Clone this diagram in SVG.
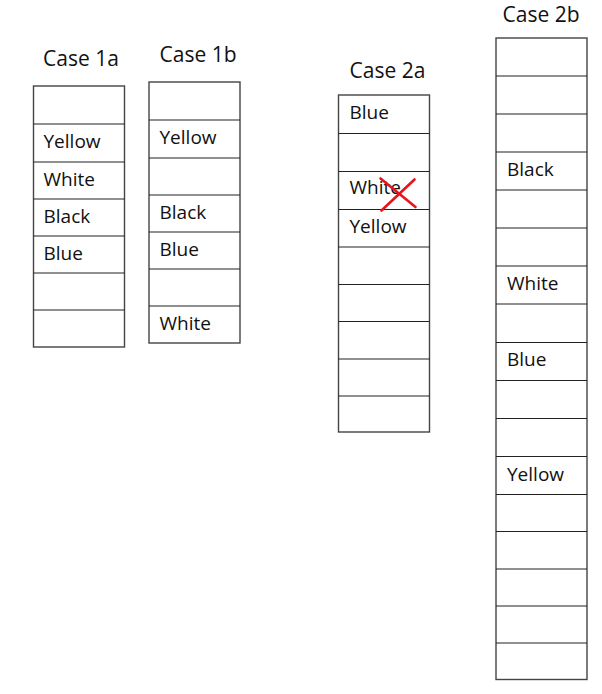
<svg xmlns="http://www.w3.org/2000/svg" width="602" height="694" viewBox="0 0 602 694">
<style>
.t{font-family:"Open Sans","DejaVu Sans",sans-serif;font-size:21px;fill:#111}
.c{font-family:"Open Sans","DejaVu Sans",sans-serif;font-size:19px;fill:#111}
.b{fill:none;stroke:#444;stroke-width:1.4}
.h{stroke:#222;stroke-width:1.2}
.x{stroke:#e8141c;stroke-width:2.6;stroke-linecap:round}
</style>
<rect width="602" height="694" fill="#fff"/>
<g id="case1a">
<text class="t" x="43" y="66">Case 1a</text>
<rect class="b" x="33.5" y="86" width="91" height="261"/>
<g class="h"><line x1="33.5" y1="124" x2="124.5" y2="124"/><line x1="33.5" y1="162" x2="124.5" y2="162"/><line x1="33.5" y1="199" x2="124.5" y2="199"/><line x1="33.5" y1="236" x2="124.5" y2="236"/><line x1="33.5" y1="273" x2="124.5" y2="273"/><line x1="33.5" y1="310" x2="124.5" y2="310"/></g>
<text class="c" x="43.5" y="147.5">Yellow</text>
<text class="c" x="43.5" y="185.5">White</text>
<text class="c" x="43.5" y="222.5">Black</text>
<text class="c" x="43.5" y="259.5">Blue</text>
</g>
<g id="case1b">
<text class="t" x="159.5" y="61.5">Case 1b</text>
<rect class="b" x="149" y="82" width="91" height="261"/>
<g class="h"><line x1="149" y1="120" x2="240" y2="120"/><line x1="149" y1="158" x2="240" y2="158"/><line x1="149" y1="195" x2="240" y2="195"/><line x1="149" y1="232" x2="240" y2="232"/><line x1="149" y1="269" x2="240" y2="269"/><line x1="149" y1="306" x2="240" y2="306"/></g>
<text class="c" x="159.5" y="144">Yellow</text>
<text class="c" x="159.5" y="219">Black</text>
<text class="c" x="159.5" y="255.5">Blue</text>
<text class="c" x="159.5" y="330">White</text>
</g>
<g id="case2a">
<text class="t" x="349.5" y="77.5">Case 2a</text>
<rect class="b" x="338.5" y="95" width="91" height="337"/>
<g class="h"><line x1="338.5" y1="133.5" x2="429.5" y2="133.5"/><line x1="338.5" y1="171.5" x2="429.5" y2="171.5"/><line x1="338.5" y1="209.5" x2="429.5" y2="209.5"/><line x1="338.5" y1="247" x2="429.5" y2="247"/><line x1="338.5" y1="284.5" x2="429.5" y2="284.5"/><line x1="338.5" y1="321.5" x2="429.5" y2="321.5"/><line x1="338.5" y1="359" x2="429.5" y2="359"/><line x1="338.5" y1="396" x2="429.5" y2="396"/></g>
<text class="c" x="349.5" y="118.5">Blue</text>
<text class="c" x="349.5" y="194">White</text>
<text class="c" x="349.5" y="232.5">Yellow</text>
<g class="x"><line x1="380.5" y1="178.5" x2="415.5" y2="207"/><line x1="381.5" y1="210.5" x2="414.5" y2="179.5"/></g>
</g>
<g id="case2b">
<text class="t" x="502.5" y="21.5">Case 2b</text>
<rect class="b" x="496" y="38" width="91" height="641.5"/>
<g class="h"><line x1="496" y1="76" x2="587" y2="76"/><line x1="496" y1="114" x2="587" y2="114"/><line x1="496" y1="152" x2="587" y2="152"/><line x1="496" y1="190" x2="587" y2="190"/><line x1="496" y1="228" x2="587" y2="228"/><line x1="496" y1="266" x2="587" y2="266"/><line x1="496" y1="304" x2="587" y2="304"/><line x1="496" y1="342.5" x2="587" y2="342.5"/><line x1="496" y1="380.5" x2="587" y2="380.5"/><line x1="496" y1="418.5" x2="587" y2="418.5"/><line x1="496" y1="456.5" x2="587" y2="456.5"/><line x1="496" y1="494.5" x2="587" y2="494.5"/><line x1="496" y1="531.5" x2="587" y2="531.5"/><line x1="496" y1="569" x2="587" y2="569"/><line x1="496" y1="606" x2="587" y2="606"/><line x1="496" y1="643" x2="587" y2="643"/></g>
<text class="c" x="507" y="176">Black</text>
<text class="c" x="507" y="290">White</text>
<text class="c" x="507" y="366">Blue</text>
<text class="c" x="507" y="480.5">Yellow</text>
</g>
<g id="connectors"/>
</svg>
